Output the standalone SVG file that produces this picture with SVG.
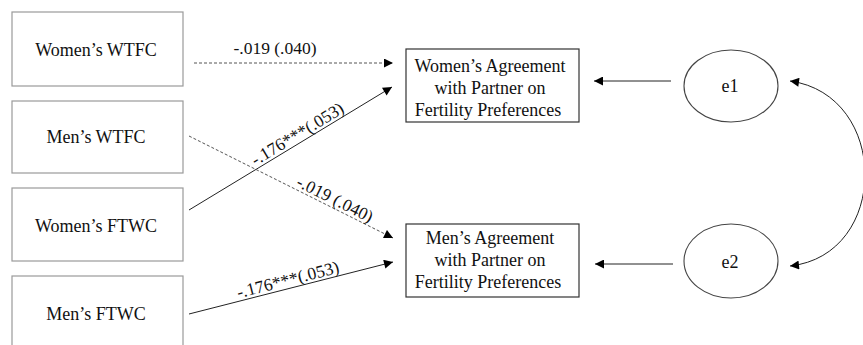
<svg xmlns="http://www.w3.org/2000/svg" width="863" height="345" viewBox="0 0 863 345" font-family="'Liberation Serif', 'DejaVu Serif', serif">
<style>
text{font-family:'Liberation Serif', 'DejaVu Serif', serif;fill:#111;}
.lbl{font-size:18px;text-anchor:middle;}
.el{font-size:17.5px;text-anchor:middle;}
.src{fill:#fff;stroke:#9a9a9a;stroke-width:1.2;}
.dst{fill:#fff;stroke:#333;stroke-width:1.2;}
.err{fill:#fff;stroke:#444;stroke-width:1.1;}
.solid{stroke:#222;stroke-width:1;fill:none;}
.dash{stroke:#555;stroke-width:1;stroke-dasharray:3 2;fill:none;}
</style>
<defs>
<marker id="ah" viewBox="0 0 10 10" refX="10" refY="5" markerWidth="10" markerHeight="9" markerUnits="userSpaceOnUse" orient="auto-start-reverse">
<path d="M0,0 L10,5 L0,10 z" fill="#000"/>
</marker>
</defs>
<rect width="863" height="345" fill="#fff"/>
<g id="women-wtfc"><rect class="src" x="12" y="12" width="171" height="74"/><text class="lbl" x="96" y="56">Women’s WTFC</text></g>
<g id="men-wtfc"><rect class="src" x="12" y="101" width="171" height="72"/><text class="lbl" x="96" y="143">Men’s WTFC</text></g>
<g id="women-ftwc"><rect class="src" x="12" y="188" width="171" height="73"/><text class="lbl" x="96" y="232">Women’s FTWC</text></g>
<g id="men-ftwc"><rect class="src" x="12" y="276" width="171" height="80"/><text class="lbl" x="96" y="320">Men’s FTWC</text></g>
<g id="women-agree"><rect class="dst" x="406" y="49" width="173" height="73"/><text class="lbl" x="490" y="72">Women’s Agreement</text><text class="lbl" x="490" y="94">with Partner on</text><text class="lbl" x="488" y="116">Fertility Preferences</text></g>
<g id="men-agree"><rect class="dst" x="406" y="224" width="173" height="73"/><text class="lbl" x="490" y="244">Men’s Agreement</text><text class="lbl" x="490" y="266">with Partner on</text><text class="lbl" x="488" y="288">Fertility Preferences</text></g>
<g id="e1"><ellipse class="err" cx="731" cy="86" rx="47" ry="36"/><text class="lbl" x="730" y="92">e1</text></g>
<g id="e2"><ellipse class="err" cx="731" cy="261" rx="47" ry="37"/><text class="lbl" x="730" y="268">e2</text></g>
<g id="connectors">
<line class="dash" x1="194" y1="63" x2="393" y2="63" marker-end="url(#ah)"/>
<line class="solid" x1="189" y1="210" x2="392" y2="87" marker-end="url(#ah)"/>
<line class="dash" x1="189" y1="136" x2="393" y2="238" marker-end="url(#ah)"/>
<line class="solid" x1="189" y1="314" x2="393" y2="262" marker-end="url(#ah)"/>
<line class="solid" x1="671" y1="81" x2="594" y2="81" marker-end="url(#ah)"/>
<line class="solid" x1="673" y1="264" x2="595" y2="264" marker-end="url(#ah)"/>
<path class="solid" d="M790,81 C890,95 890,255 790,266" marker-start="url(#ah)" marker-end="url(#ah)"/>
<text class="el" x="275" y="54">-.019 (.040)</text>
<text class="el" x="0" y="-3" transform="translate(302,141.5) rotate(-31.2)">-.176***(.053)</text>
<text class="el" x="0" y="-3" transform="translate(331,207) rotate(26.6)">-.019 (.040)</text>
<text class="el" x="0" y="-3" transform="translate(290,288.3) rotate(-14.3)">-.176***(.053)</text>
</g>
</svg>
